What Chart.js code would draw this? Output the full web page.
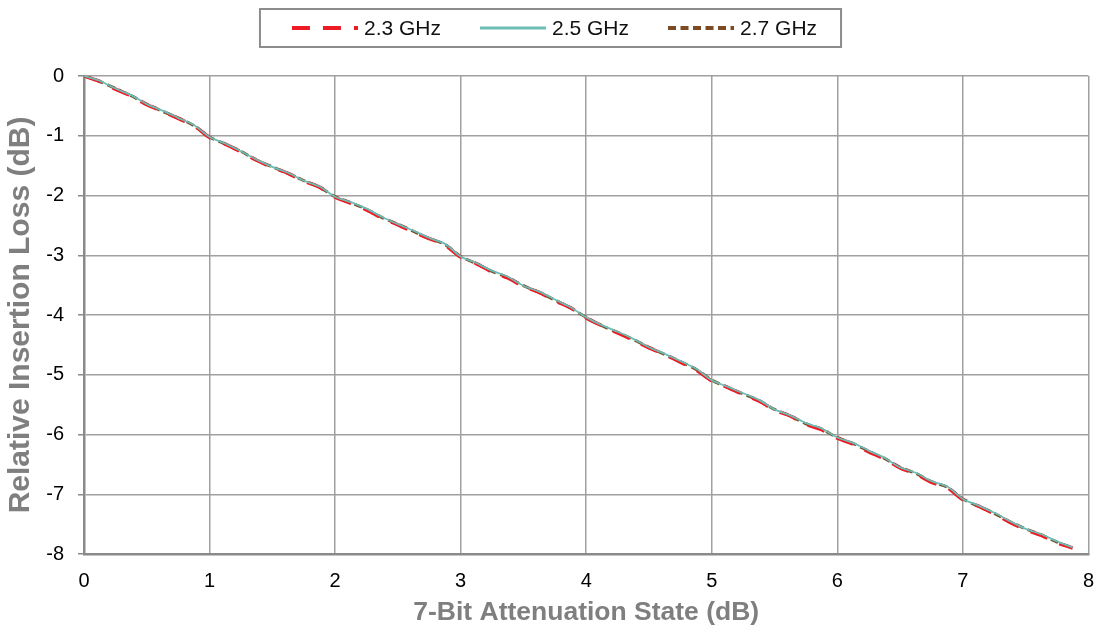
<!DOCTYPE html>
<html>
<head>
<meta charset="utf-8">
<script src="https://cdn.jsdelivr.net/npm/chart.js@4/dist/chart.umd.min.js"></script>
<style>
  html, body { margin: 0; padding: 0; background: #fff; }
  #wrap { position: relative; width: 1109px; height: 632px; }
</style>
</head>
<body>
<div id="wrap"><canvas id="myChart"></canvas></div>
<script>
// attenuation states (dB)
const states = [0, 0.125, 0.25, 0.375, 0.5, 0.625, 0.75, 0.875,
  1, 1.125, 1.25, 1.375, 1.5, 1.625, 1.75, 1.875,
  2, 2.125, 2.25, 2.375, 2.5, 2.625, 2.75, 2.875,
  3, 3.125, 3.25, 3.375, 3.5, 3.625, 3.75, 3.875,
  4, 4.125, 4.25, 4.375, 4.5, 4.625, 4.75, 4.875,
  5, 5.125, 5.25, 5.375, 5.5, 5.625, 5.75, 5.875,
  6, 6.125, 6.25, 6.375, 6.5, 6.625, 6.75, 6.875,
  7, 7.125, 7.25, 7.375, 7.5, 7.625, 7.75, 7.875];

const loss23 = [0, -0.09, -0.22, -0.33, -0.48, -0.59, -0.71, -0.83,
  -1.03, -1.14, -1.27, -1.41, -1.53, -1.63, -1.76, -1.86,
  -2.03, -2.13, -2.24, -2.38, -2.49, -2.61, -2.72, -2.83,
  -3.03, -3.14, -3.28, -3.38, -3.52, -3.62, -3.76, -3.88,
  -4.05, -4.18, -4.30, -4.42, -4.55, -4.66, -4.79, -4.92,
  -5.10, -5.21, -5.33, -5.44, -5.59, -5.69, -5.83, -5.92,
  -6.06, -6.16, -6.29, -6.41, -6.56, -6.66, -6.80, -6.89,
  -7.09, -7.20, -7.33, -7.47, -7.59, -7.69, -7.81, -7.90];

const loss25 = [0, -0.08, -0.21, -0.32, -0.47, -0.58, -0.70, -0.82,
  -1.02, -1.13, -1.26, -1.40, -1.52, -1.62, -1.75, -1.85,
  -2.02, -2.11, -2.22, -2.36, -2.48, -2.59, -2.71, -2.81,
  -3.02, -3.13, -3.26, -3.36, -3.51, -3.61, -3.74, -3.87,
  -4.04, -4.17, -4.28, -4.40, -4.54, -4.65, -4.77, -4.90,
  -5.09, -5.20, -5.31, -5.42, -5.58, -5.68, -5.81, -5.90,
  -6.05, -6.14, -6.27, -6.39, -6.55, -6.64, -6.78, -6.87,
  -7.08, -7.19, -7.31, -7.45, -7.58, -7.67, -7.79, -7.89];

const loss27 = [0, -0.09, -0.21, -0.33, -0.47, -0.59, -0.70, -0.83,
  -1.02, -1.14, -1.26, -1.41, -1.52, -1.63, -1.75, -1.86,
  -2.02, -2.12, -2.23, -2.37, -2.48, -2.60, -2.72, -2.82,
  -3.02, -3.14, -3.27, -3.37, -3.51, -3.62, -3.75, -3.88,
  -4.04, -4.18, -4.29, -4.41, -4.54, -4.66, -4.78, -4.91,
  -5.09, -5.21, -5.32, -5.43, -5.58, -5.69, -5.82, -5.91,
  -6.05, -6.15, -6.28, -6.40, -6.55, -6.65, -6.79, -6.88,
  -7.08, -7.20, -7.32, -7.46, -7.58, -7.68, -7.80, -7.90];

const seriesNames = ["2.3 GHz", "2.5 GHz", "2.7 GHz"];
const xTicks = [0, 1, 2, 3, 4, 5, 6, 7, 8];
const yTicks = [0, -1, -2, -3, -4, -5, -6, -7, -8];

const FONT = '"Liberation Sans", Arial, sans-serif';
const GRID = '#a0a0a0';
const AXIS = '#8a8a8a';

function pts(vals) {
  return states.map((s, i) => ({ x: s, y: vals[i] }));
}

// legend with a frame, drawn on top of the canvas
const framedLegend = {
  id: 'framedLegend',
  afterDraw(chart) {
    const ctx = chart.ctx;
    const sampleW = 66, textGap = 6, itemGap = 39, padL = 32, padR = 24;
    ctx.save();
    ctx.font = '21px ' + FONT;
    const items = chart.data.datasets.map(ds => ({ ds: ds, w: ctx.measureText(ds.label).width }));
    const total = items.reduce((s, it) => s + sampleW + textGap + it.w, 0) + itemGap * (items.length - 1);
    let x = chart.width / 2 - total / 2;
    const cy = 28;
    ctx.strokeStyle = '#8c8c8c';
    ctx.lineWidth = 2;
    ctx.strokeRect(x - padL, 9, total + padL + padR, 38);
    items.forEach(it => {
      ctx.beginPath();
      ctx.setLineDash(it.ds.borderDash || []);
      ctx.lineWidth = it.ds.legendWidth;
      ctx.strokeStyle = it.ds.borderColor;
      ctx.moveTo(x, cy);
      ctx.lineTo(x + sampleW, cy);
      ctx.stroke();
      ctx.setLineDash([]);
      ctx.fillStyle = '#111';
      ctx.textBaseline = 'middle';
      ctx.fillText(it.ds.label, x + sampleW + textGap, cy + 1);
      x += sampleW + textGap + it.w + itemGap;
    });
    ctx.restore();
  }
};

const ctx = document.getElementById('myChart').getContext('2d');
const myChart = new Chart(ctx, {
  type: 'line',
  data: {
    datasets: [
      {
        label: seriesNames[0],
        data: pts(loss23),
        borderColor: '#ed1c24',
        borderWidth: 3.5,
        legendWidth: 4,
        borderDash: [18, 13],
        order: 2
      },
      {
        label: seriesNames[1],
        data: pts(loss25),
        borderColor: '#6dbdb7',
        borderWidth: 1.8,
        legendWidth: 3,
        order: 1
      },
      {
        label: seriesNames[2],
        data: pts(loss27),
        borderColor: '#7b4b25',
        borderWidth: 3,
        legendWidth: 4,
        borderDash: [8, 4.5],
        order: 3
      }
    ]
  },
  options: {
    responsive: true,
    maintainAspectRatio: false,
    animation: false,
    elements: {
      point: { radius: 0 },
      line: { tension: 0.3, fill: false, borderCapStyle: 'butt' }
    },
    layout: { padding: { top: 76, right: 17, left: 0, bottom: 0 } },
    scales: {
      x: {
        type: 'linear',
        min: 0,
        max: 8,
        afterBuildTicks: (s) => { s.ticks = xTicks.map(v => ({ value: v })); },
        afterFit: (s) => { s.height = 78; },
        grid: { color: GRID, lineWidth: 1.5, drawTicks: false },
        border: { color: AXIS, width: 2.5 },
        ticks: { color: '#000', padding: 15, font: { size: 20, family: FONT } },
        title: {
          display: true,
          text: '7-Bit Attenuation State (dB)',
          color: '#7f7f7f',
          padding: 3,
          font: { size: 26.5, weight: 'bold', family: FONT }
        }
      },
      y: {
        type: 'linear',
        min: -8,
        max: 0,
        afterBuildTicks: (s) => { s.ticks = yTicks.map(v => ({ value: v })); },
        afterFit: (s) => { s.width = 84; },
        grid: { color: GRID, lineWidth: 1.5, drawTicks: true, tickLength: 6, tickColor: AXIS },
        border: { color: AXIS, width: 2.5 },
        ticks: { color: '#000', padding: 14, font: { size: 20, family: FONT } },
        title: {
          display: true,
          text: 'Relative Insertion Loss (dB)',
          color: '#7f7f7f',
          padding: 3,
          font: { size: 30, weight: 'bold', family: FONT }
        }
      }
    },
    plugins: {
      legend: { display: false },
      tooltip: { enabled: false }
    }
  },
  plugins: [framedLegend]
});
</script>
</body>
</html>
